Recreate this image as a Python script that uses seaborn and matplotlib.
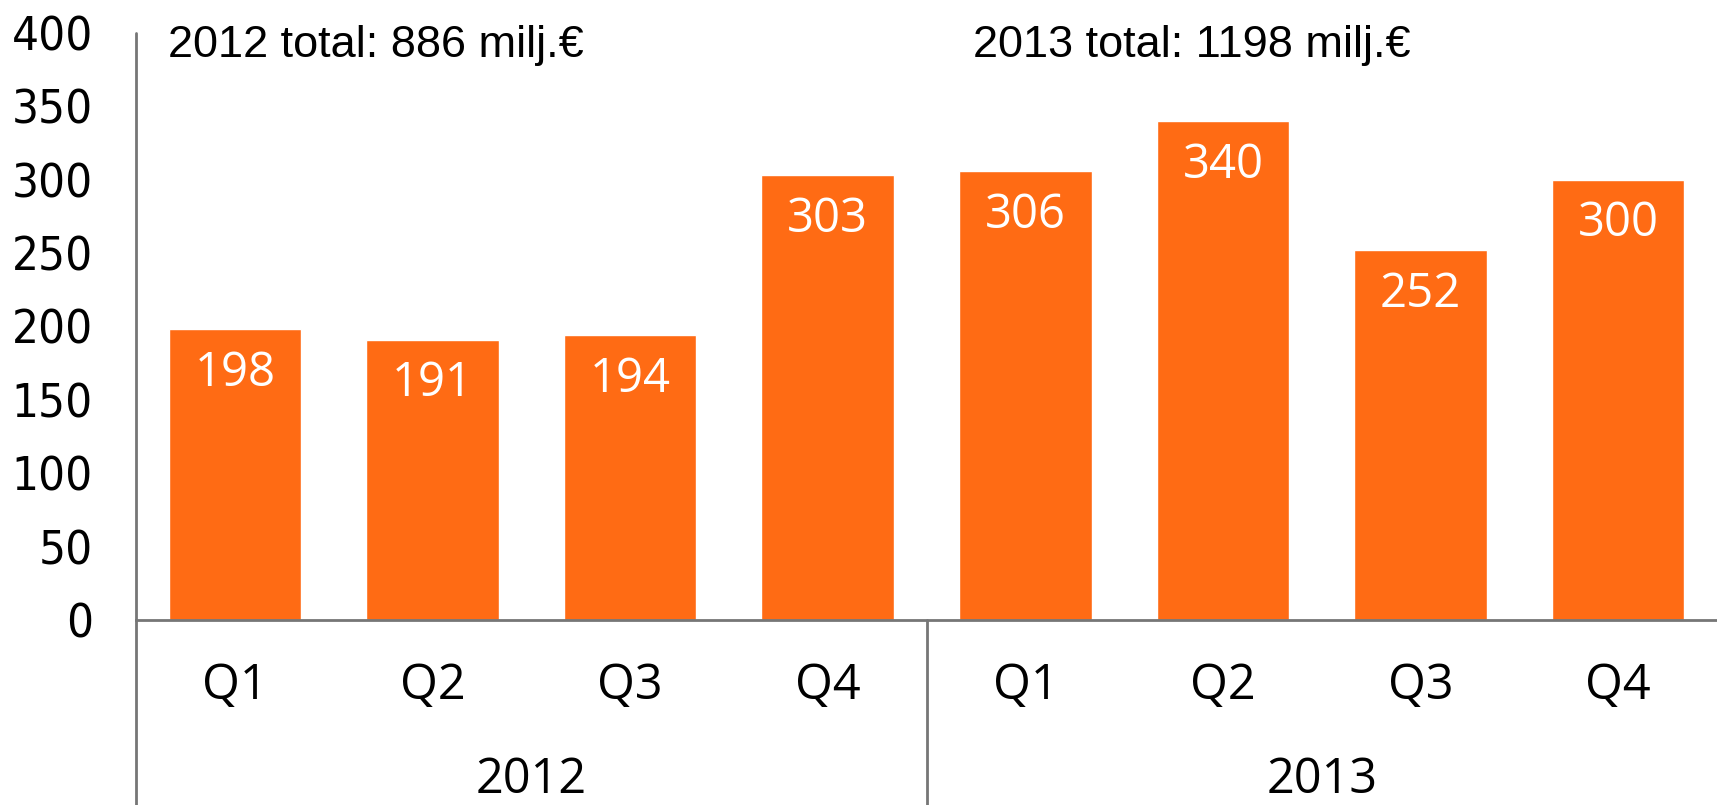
import numpy as np
import pandas as pd
import matplotlib
matplotlib.use("Agg")
import matplotlib.pyplot as plt
import seaborn as sns

# data
years = ["2012", "2013"]
quarters = ["Q1", "Q2", "Q3", "Q4"]
values_2012 = [198, 191, 194, 303]
values_2013 = [306, 340, 252, 300]
totals = [886, 1198]
y_ticks = [0, 50, 100, 150, 200, 250, 300, 350, 400]

BAR_COLOR = "#FF6B14"
LINE_COLOR = "#767676"

df = pd.DataFrame({
    "year": [y for y in years for _ in quarters],
    "quarter": quarters * 2,
    "value": values_2012 + values_2013,
})
df["period"] = df["year"] + " " + df["quarter"]

sns.set_style("white")
plt.rcParams["font.family"] = ["Liberation Sans", "DejaVu Sans"]
plt.rcParams["text.color"] = "black"
plt.rcParams["ytick.color"] = "black"

fig = plt.figure(figsize=(17.17, 8.05), dpi=100)
ax = fig.add_axes([136 / 1717, 185 / 805, 1 - 136 / 1717, 587 / 805])

sns.barplot(data=df, x="period", y="value", order=list(df["period"]),
            color=BAR_COLOR, saturation=1, width=0.67, ax=ax)

ax.set_ylim(0, 400)
ax.set_xlim(-0.5, 7.5)
ax.set_xlabel("")
ax.set_ylabel("")
ax.set_yticks(y_ticks)
ax.set_yticklabels([str(t) for t in y_ticks], family="DejaVu Sans",
                   fontstretch="condensed", fontsize=34, color="black")
ax.tick_params(axis="y", length=0, pad=31)
ax.tick_params(axis="x", length=0)
ax.set_xticks([])

for side in ["top", "right", "left"]:
    ax.spines[side].set_visible(False)
ax.spines["bottom"].set_color(LINE_COLOR)
ax.spines["bottom"].set_linewidth(2)

# category axis: quarters, years and separators below the baseline
bottom = -185 / 587
ax.plot([0, 0], [bottom, 1], transform=ax.transAxes, color=LINE_COLOR,
        lw=2, clip_on=False)
ax.plot([0.5, 0.5], [bottom, 0], transform=ax.transAxes, color=LINE_COLOR,
        lw=2, clip_on=False)

for i, row in df.reset_index().iterrows():
    ax.annotate(row["quarter"], (i, 0), xytext=(0, -66), textcoords="offset pixels",
                ha="center", va="center", fontsize=35, family="Open Sans",
                annotation_clip=False)
    ax.annotate(str(row["value"]), (i, row["value"]), xytext=(0, -44),
                textcoords="offset pixels", ha="center", va="center",
                fontsize=34, family="Open Sans", color="white")

for k, yr in enumerate(years):
    ax.annotate(yr, (1.5 + 4 * k, 0), xytext=(0, -160), textcoords="offset pixels",
                ha="center", va="center", fontsize=35, family="Open Sans",
                annotation_clip=False)
    ax.annotate(f"{yr} total: {totals[k]} milj.€", (-0.5 + 4 * k, 400),
                xytext=(32 if k == 0 else 46, -13), textcoords="offset pixels",
                ha="left", va="center", fontsize=32.5, annotation_clip=False)

fig.savefig("out.png", dpi=100)
